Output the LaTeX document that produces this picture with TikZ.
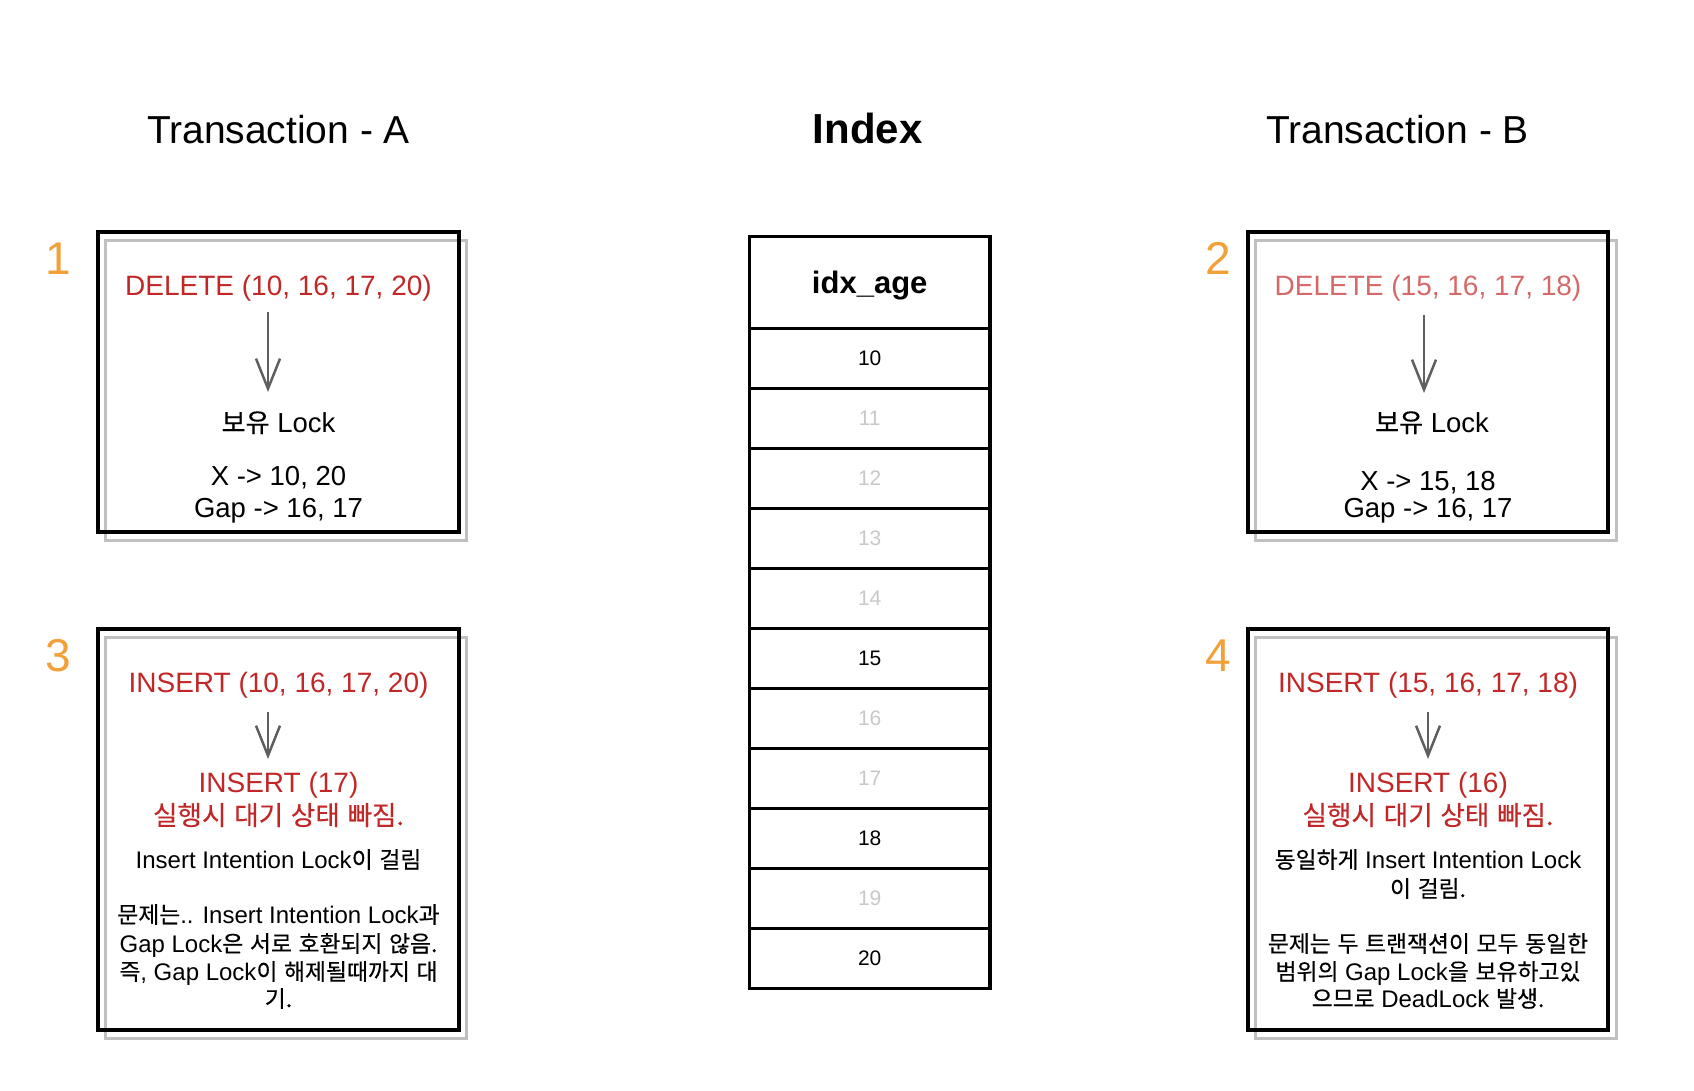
\documentclass[tikz,border=0pt]{standalone}
\usepackage{fontspec}
\setmainfont{Liberation Sans}
\newfontfamily\kofont{Noto Sans CJK KR}[Scale=0.95, WordSpace=1.3, FakeBold=0.4]
\newcommand\ko[1]{{\kofont #1}}
\usetikzlibrary{arrows.meta}
\definecolor{redtxt}{RGB}{194,39,39}
\definecolor{lightred}{RGB}{214,104,104}
\definecolor{orangenum}{RGB}{242,160,56}
\definecolor{lightnum}{RGB}{200,200,200}
\definecolor{shadowgray}{RGB}{192,192,192}
\definecolor{arrgray}{RGB}{95,95,95}
\tikzset{
  title/.style={anchor=base, inner sep=0pt, font=\fontsize{39}{45}\selectfont},
  box/.style={draw=black, line width=4pt, minimum width=360.4pt, minimum height=300pt, inner sep=0pt},
  shadowbox/.style={draw=shadowgray, line width=3pt, minimum width=360.4pt, minimum height=300pt, inner sep=0pt},
  cell/.style={draw=black, line width=3.5pt, minimum width=240.7pt, minimum height=60pt, inner sep=0pt, font=\fontsize{21}{24}\selectfont},
  numlab/.style={anchor=base, inner sep=0pt, text=orangenum, font=\fontsize{46}{50}\selectfont},
  redline/.style={anchor=base, inner sep=0pt, text=redtxt, font=\fontsize{28}{32}\selectfont},
  bodyA/.style={anchor=base, inner sep=0pt, font=\fontsize{27.5}{32}\selectfont},
  bodyB/.style={anchor=base, inner sep=0pt, font=\fontsize{24}{28}\selectfont},
  arr/.style={draw=arrgray, line width=2.5pt, -{Straight Barb[length=30pt, width=24pt, line width=2.5pt]}}
}
\begin{document}
\begin{tikzpicture}[x=1pt, y=-1pt]
\useasboundingbox (0,0) rectangle (1694,1090);

% titles
\node[title] (tA) at (278.5,143) {Transaction - A};
\node[title, font=\bfseries\fontsize{42}{48}\selectfont] (tI) at (867.5,143) {Index};
\node[title] (tB) at (1397.5,143) {Transaction - B};

% shadows and boxes
\node[shadowbox] (s1) at (286,390.5) {};
\node[box] (b1) at (278.5,382) {};
\node[shadowbox] (s2) at (1436,390.5) {};
\node[box] (b2) at (1428,382) {};
\node[shadowbox, minimum height=401pt] (s3) at (286,837.7) {};
\node[box, minimum height=401pt] (b3) at (278.5,829.2) {};
\node[shadowbox, minimum height=401pt] (s4) at (1436,837.7) {};
\node[box, minimum height=401pt] (b4) at (1428,829.2) {};

% step numbers
\node[numlab] (n1) at (58,274) {1};
\node[numlab] (n2) at (1218,274) {2};
\node[numlab] (n3) at (58,671) {3};
\node[numlab] (n4) at (1218,671) {4};

% index table
\node[cell, minimum height=91.6pt, text depth=0pt, font=\bfseries\fontsize{31}{36}\selectfont] (hdr) at (869.7,282.5) {idx\_age};
\foreach \v/\c [count=\i from 0] in {10/black,11/lightnum,12/lightnum,13/lightnum,14/lightnum,15/black,16/lightnum,17/lightnum,18/black,19/lightnum,20/black}{
  \node[cell, text=\c] (r\v) at (869.7,{358.3+60*\i}) {\v};
}

% box 1
\node[redline] (d1) at (278.5,295) {DELETE (10, 16, 17, 20)};
\coordinate (a1s) at (268,312);
\coordinate (a1e) at (268,392);
\draw[arr] (a1s) -- (a1e);
\node[bodyA] (l1a) at (278.5,432) {\ko{보유} Lock};
\node[bodyA] (l1b) at (278.5,485) {X -> 10, 20};
\node[bodyA] (l1c) at (278.5,517) {Gap -> 16, 17};

% box 2
\node[redline, text=lightred] (d2) at (1428,295) {DELETE (15, 16, 17, 18)};
\coordinate (a2s) at (1424,315);
\coordinate (a2e) at (1424,393);
\draw[arr] (a2s) -- (a2e);
\node[bodyA] (l2a) at (1432,432) {\ko{보유} Lock};
\node[bodyA] (l2b) at (1428,490) {X -> 15, 18};
\node[bodyA] (l2c) at (1428,517) {Gap -> 16, 17};

% box 3
\node[redline] (i3) at (278.5,692) {INSERT (10, 16, 17, 20)};
\coordinate (a3s) at (268,712);
\coordinate (a3e) at (268,759);
\draw[arr] (a3s) -- (a3e);
\node[redline] (i3b) at (278.5,792) {INSERT (17)};
\node[redline] (i3c) at (278.5,825) {\ko{실행시 대기 상태 빠짐.}};
\node[bodyB] (t3a) at (278.5,868) {Insert Intention Lock\ko{이 걸림}};
\node[bodyB] (t3b) at (278.5,923) {\ko{문제는}.. Insert Intention Lock\ko{과}};
\node[bodyB] (t3c) at (278.5,952) {Gap Lock\ko{은 서로 호환되지 않음.}};
\node[bodyB] (t3d) at (278.5,980) {\ko{즉}, Gap Lock\ko{이 해제될때까지 대}};
\node[bodyB] (t3e) at (278.5,1007) {\ko{기.}};

% box 4
\node[redline] (i4) at (1428,692) {INSERT (15, 16, 17, 18)};
\coordinate (a4s) at (1428,712);
\coordinate (a4e) at (1428,759);
\draw[arr] (a4s) -- (a4e);
\node[redline] (i4b) at (1428,792) {INSERT (16)};
\node[redline] (i4c) at (1428,825) {\ko{실행시 대기 상태 빠짐.}};
\node[bodyB] (t4a) at (1428,868) {\ko{동일하게} Insert Intention Lock};
\node[bodyB] (t4b) at (1428,897) {\ko{이 걸림.}};
\node[bodyB] (t4c) at (1428,952) {\ko{문제는 두 트랜잭션이 모두 동일한}};
\node[bodyB] (t4d) at (1428,980) {\ko{범위의} Gap Lock\ko{을 보유하고있}};
\node[bodyB] (t4e) at (1428,1007) {\ko{으므로} DeadLock \ko{발생.}};
\end{tikzpicture}
\end{document}
